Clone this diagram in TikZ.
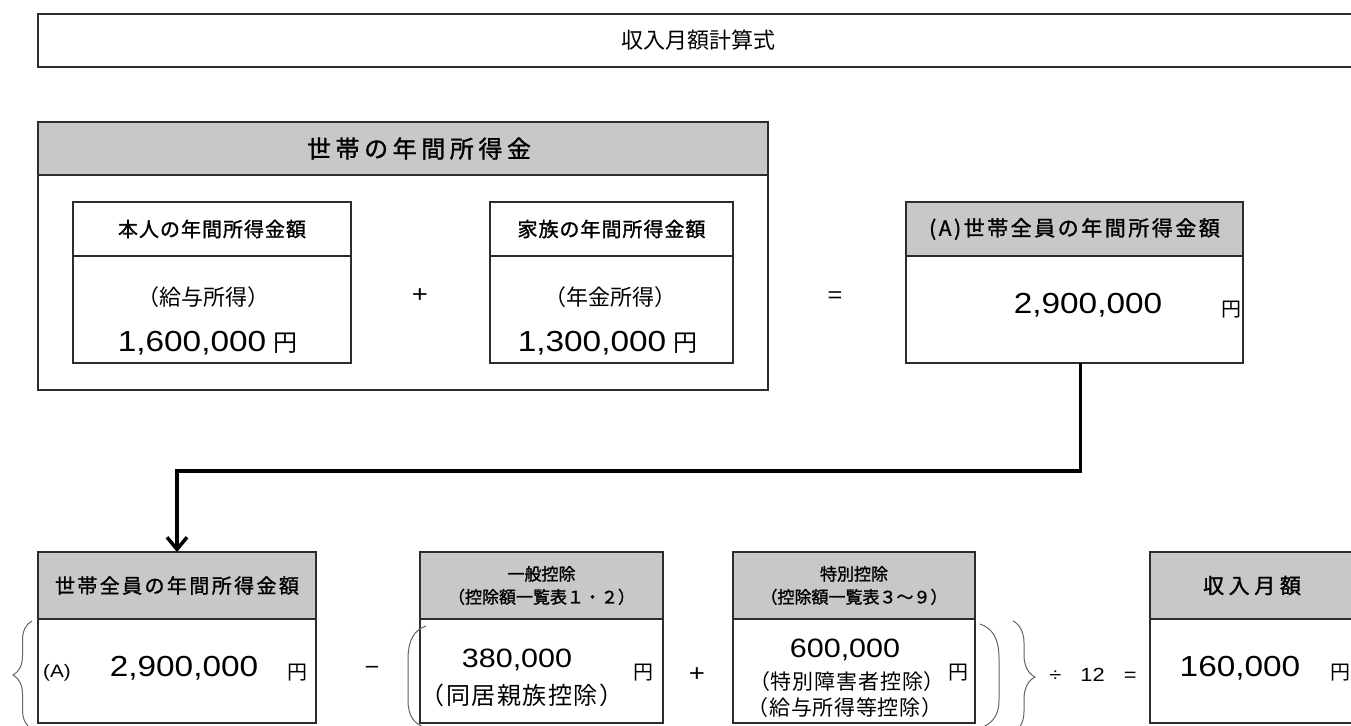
\documentclass[tikz,border=0pt]{standalone}
\usepackage{fontspec}
\usepackage{tikz}
\usetikzlibrary{positioning,arrows.meta,decorations.pathreplacing}

\setmainfont{Noto Sans CJK JP}
\newfontfamily\numfont[FakeStretch=1.15]{Liberation Sans}
\newcommand{\fsz}[1]{\fontsize{#1pt}{#1pt}\selectfont}
\newcommand{\trk}[1]{\addfontfeature{LetterSpace=#1}}
\newcommand{\heavy}{\addfontfeature{FakeBold=1.3}}

\definecolor{hdrgray}{RGB}{200,200,200}
\definecolor{edgegray}{RGB}{45,45,45}
\definecolor{bracegray}{RGB}{100,100,100}

\tikzset{
  box/.style={rectangle,draw=edgegray,line width=1.3pt,inner sep=0pt,outer sep=0pt},
  hdr/.style={box,fill=hdrgray},
  lbl/.style={inner sep=0pt,font=\fsz{20}},
  num/.style={inner sep=0pt,font=\numfont\fsz{29}},
  yen/.style={inner sep=0pt,font=\fsz{20}},
  op/.style={inner sep=0pt,font=\numfont\fsz{20}},
  brc/.style={draw=bracegray,line width=1pt},
  flow/.style={line width=3.5pt,-{Straight Barb[length=12pt,width=20pt]}},
}

\begin{document}
\begin{tikzpicture}[x=1pt,y=1pt]

  \useasboundingbox (0,0) rectangle (1351,-725);
  \clip (0,0) rectangle (1351,-725);

  % Nodes

  \node[box,minimum width=1320pt,minimum height=53pt,anchor=north west,font=\fsz{22}] (title) at (38,-14) {収入月額計算式};

  \node[hdr,minimum width=730pt,minimum height=53pt,below=55pt of title.south west,anchor=north west,font=\fsz{24}\heavy\trk{19}] (hh_h) {\hspace*{32pt}世帯の年間所得金};
  \node[box,minimum width=730pt,minimum height=215pt,below=0pt of hh_h] (hh_b) {};

  \node[box,minimum width=278pt,minimum height=54pt,below right=27pt and 35pt of hh_b.north west,font=\fsz{20}\heavy\trk{5}] (self_h) {本人の年間所得金額};
  \node[box,minimum width=278pt,minimum height=107pt,below=0pt of self_h] (self_b) {};
  \node[box,minimum width=243pt,minimum height=54pt,right=139pt of self_h,font=\fsz{20}\heavy\trk{5}] (fam_h) {家族の年間所得金額};
  \node[box,minimum width=243pt,minimum height=107pt,below=0pt of fam_h] (fam_b) {};

  \node[hdr,minimum width=337pt,minimum height=54pt,right=173pt of fam_h,font=\fsz{21}\heavy\trk{12}] (all_h) {(A)世帯全員の年間所得金額};
  \node[box,minimum width=337pt,minimum height=107pt,below=0pt of all_h] (all_b) {};

  \node[hdr,minimum width=278pt,minimum height=67pt,below=162pt of hh_b.south west,anchor=north west,font=\fsz{20}\heavy\trk{12}] (tot_h) {世帯全員の年間所得金額};
  \node[box,minimum width=278pt,minimum height=104pt,below=0pt of tot_h] (tot_b) {};
  \node[hdr,minimum width=243pt,minimum height=67pt,right=104pt of tot_h,align=center,font=\fontsize{17pt}{23pt}\selectfont\heavy] (gen_h) {一般控除\\（控除額一覧表１・２）};
  \node[box,minimum width=243pt,minimum height=104pt,below=0pt of gen_h] (gen_b) {};
  \node[hdr,minimum width=242pt,minimum height=67pt,right=70pt of gen_h,align=center,font=\fontsize{17pt}{23pt}\selectfont\heavy] (spc_h) {特別控除\\（控除額一覧表３～９）};
  \node[box,minimum width=242pt,minimum height=104pt,below=0pt of spc_h] (spc_b) {};
  \node[hdr,minimum width=204pt,minimum height=67pt,right=175pt of spc_h,font=\fsz{21}\heavy\trk{22}] (mon_h) {収入月額};
  \node[box,minimum width=204pt,minimum height=104pt,below=0pt of mon_h] (mon_b) {};

  % Amounts

  \node[lbl,font=\fsz{22}] (self_kind) at (203,-297) {（給与所得）};
  \node[num] (self_val) at (192,-343) {1,600,000};
  \node[yen,font=\fsz{24}] (self_yen) at (285,-343) {円};
  \node[lbl,font=\fsz{22}] (fam_kind) at (610,-297) {（年金所得）};
  \node[num] (fam_val) at (592,-343) {1,300,000};
  \node[yen,font=\fsz{24}] (fam_yen) at (685,-343) {円};
  \node[num] (all_val) at (1088,-305) {2,900,000};
  \node[yen] (all_yen) at (1231,-310) {円};

  \node[op,font=\numfont\fsz{18}] (tot_tag) at (57,-673) {(A)};
  \node[num] (tot_val) at (184,-668) {2,900,000};
  \node[yen] (tot_yen) at (297,-673) {円};
  \node[num,font=\numfont\fsz{26.5}] (gen_val) at (517,-660) {380,000};
  \node[lbl,font=\fsz{24}\trk{6}] (gen_kind) at (522,-695) {（同居親族控除）};
  \node[yen] (gen_yen) at (643,-673) {円};
  \node[num,font=\numfont\fsz{26.5}] (spc_val) at (845,-650) {600,000};
  \node[lbl,font=\fsz{21}\trk{4}] (spc_kind1) at (847,-682) {（特別障害者控除）};
  \node[lbl,font=\fsz{21}\trk{3}] (spc_kind2) at (845,-708) {（給与所得等控除）};
  \node[yen] (spc_yen) at (958,-673) {円};
  \node[num] (mon_val) at (1240,-668) {160,000};
  \node[yen] (mon_yen) at (1340,-673) {円};

  % Operators

  \node[op,font=\numfont\fsz{24}] (plus1) at (420,-296) {+};
  \node[op,font=\numfont\fsz{22}] (eq1) at (835,-297) {=};
  \node[op,font=\numfont\fsz{22}] (minus) at (372,-670) {−};
  \node[op,font=\numfont\fsz{24}] (plus2) at (697,-675) {+};
  \node[op,font=\numfont\fsz{19}] (div) at (1093,-675) {÷\hspace{19pt}12\hspace{19pt}=};

  \draw[brc,decorate,decoration={brace,amplitude=19pt}] (32,-729) -- (32,-621);
  \draw[brc] (426,-626) .. controls (414,-630) and (408,-640) .. (408,-660) -- (408,-700) .. controls (408,-716) and (414,-724) .. (426,-728);
  \draw[brc] (980,-624) .. controls (992,-628) and (999,-638) .. (999,-658) -- (999,-700) .. controls (999,-716) and (992,-724) .. (980,-728);
  \draw[brc,decorate,decoration={brace,amplitude=22pt}] (1013,-621) -- (1013,-733);

  % Edges

  \draw[flow] ([xshift=6pt]all_b.south) -- ++(0,-108) -| (tot_h.north);

\end{tikzpicture}
\end{document}
